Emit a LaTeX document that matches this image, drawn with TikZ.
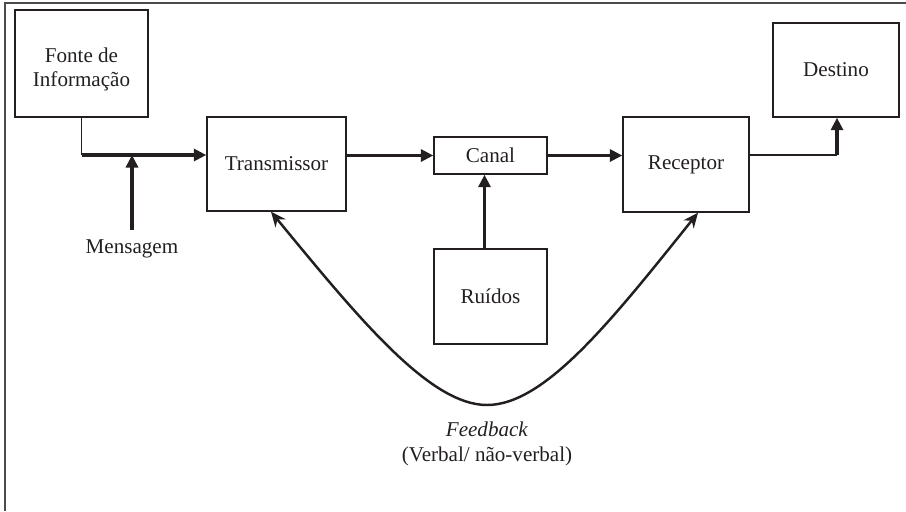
\documentclass[tikz,border=0pt]{standalone}
\usepackage{fontspec}
\setmainfont{Liberation Serif}
\usetikzlibrary{arrows.meta}
\definecolor{ink}{HTML}{231F20}
\begin{document}
\begin{tikzpicture}[x=0.02cm,y=-0.02cm,>={Triangle[length=0.25cm,width=0.24cm]},
  font=\fontsize{12}{14}\selectfont,color=ink,
  box/.style={draw,line width=0.8pt},
  wire/.style={line width=0.9pt},
  flow/.style={->,line width=2pt},
  fback/.style={{Stealth[length=0.3cm,width=0.26cm]}-{Stealth[length=0.3cm,width=0.26cm]},line width=1.4pt},
  frame/.style={line width=1.2pt,gray!60!black}]
  \useasboundingbox (0,0) rectangle (906,511);
  \draw[frame] (5,511) -- (5,3) -- (906,3);
  % blocos
  \node[box,minimum width=2.66cm,minimum height=2.14cm,
    label={[align=center,yshift=-0.12cm]center:Fonte de\\Informação}] (fonte) at (81.5,63.5) {};
  \node[box,minimum width=2.78cm,minimum height=1.88cm] (trans) at (276.5,164) {Transmissor};
  \node[box,minimum width=2.26cm,minimum height=0.74cm] (canal) at (490.5,155.5) {Canal};
  \node[box,minimum width=2.52cm,minimum height=1.9cm] (recep) at (686,164.5) {Receptor};
  \node[box,minimum width=2.52cm,minimum height=1.88cm] (destino) at (836,70) {Destino};
  \node[box,minimum width=2.26cm,minimum height=1.9cm] (ruidos) at (490.5,296.5) {Ruídos};
  \node (msg) at (132,249) {Mensagem};
  \node[align=center] (fbtxt) at (487,444) {\textit{Feedback}\\(Verbal/ não-verbal)};
  % ligacoes
  \coordinate (fj) at (82,155);
  \coordinate (rj) at (837,155);
  \coordinate (fb) at (487,405);
  \draw[wire] (fonte.south) -- (fonte.south |- fj);
  \draw[flow] (fj) -- (fj -| trans.west);
  \draw[flow,shorten <=2pt] (msg) -- (msg |- fj);
  \draw[flow] (trans.east |- canal) -- (canal.west);
  \draw[flow] (canal.east) -- (canal.east -| recep.west);
  \draw[flow] ([xshift=-0.12cm]ruidos.north) -- ([xshift=-0.12cm]canal.south);
  \draw[wire] (recep.east |- rj) -- (rj);
  \draw[flow] (rj) -- (rj |- destino.south);
  \draw[fback] ([xshift=-0.11cm]trans.south) .. controls (360,320) and (430,405) .. (fb)
    .. controls (545,405) and (612,320) .. ([xshift=0.24cm]recep.south);
\end{tikzpicture}
\end{document}
